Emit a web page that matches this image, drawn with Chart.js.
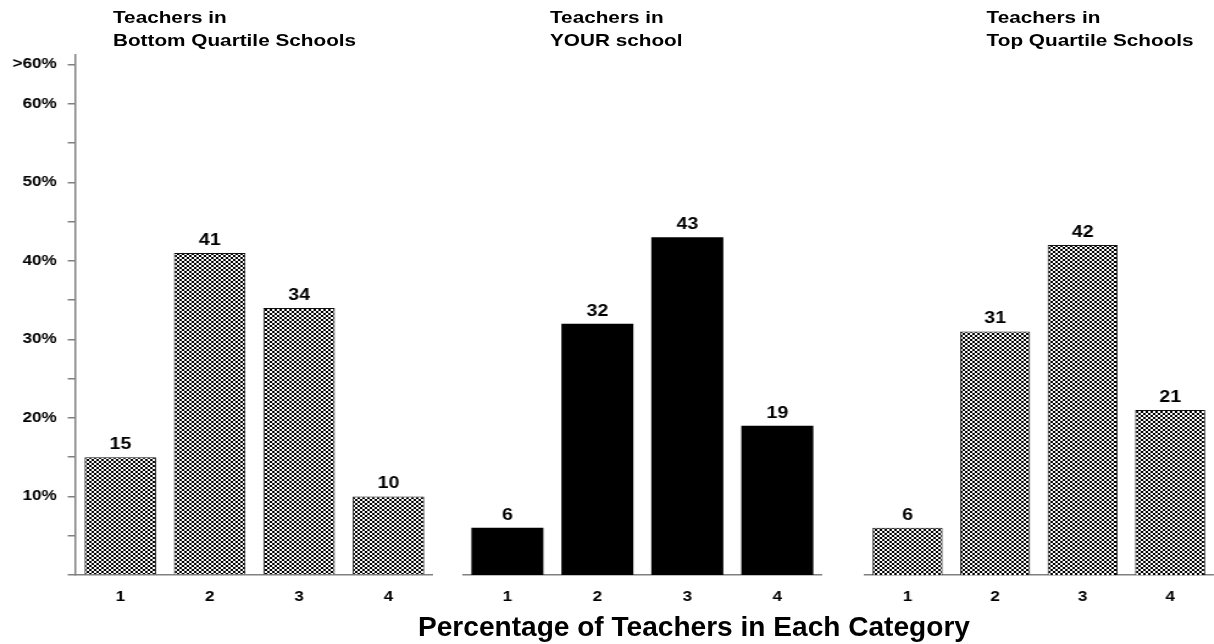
<!DOCTYPE html>
<html>
<head>
<meta charset="utf-8">
<script src="https://cdn.jsdelivr.net/npm/chart.js@4"></script>
<style>
html,body{margin:0;padding:0;background:#fff;width:1214px;height:644px;overflow:hidden;}
#stage{position:absolute;left:0;top:0;width:995px;height:644px;transform:scaleX(1.22);transform-origin:0 0;}
.panel{position:absolute;top:0;height:644px;}
.ttl{position:absolute;top:6px;font:bold 17px "Liberation Sans",Arial,sans-serif;line-height:23.4px;color:#000;white-space:nowrap;}
#xlabel{position:absolute;left:418px;top:614px;font:bold 27px "Liberation Sans",Arial,sans-serif;line-height:27px;color:#000;white-space:nowrap;transform:scaleX(1.04);transform-origin:0 0;}
</style>
</head>
<body>
<div id="stage">
  <div class="panel" style="left:0px;width:355px;"><canvas id="c1"></canvas></div>
  <div class="panel" style="left:379px;width:295px;"><canvas id="c2"></canvas></div>
  <div class="panel" style="left:708px;width:287px;"><canvas id="c3"></canvas></div>
  <div class="ttl" style="left:92.6px;">Teachers in<br>Bottom Quartile Schools</div>
  <div class="ttl" style="left:450.8px;">Teachers in<br>YOUR school</div>
  <div class="ttl" style="left:808.7px;">Teachers in<br>Top Quartile Schools</div>
</div>
<div id="xlabel">Percentage of Teachers in Each Category</div>
<script>
const categories = ['1', '2', '3', '4'];
const bottomQuartile = [15, 41, 34, 10];
const yourSchool = [6, 32, 43, 19];
const topQuartile = [6, 31, 42, 21];
const yTickValues = [0, 5, 10, 15, 20, 25, 30, 35, 40, 45, 50, 55, 60, 65];
const yTickLabels = ['', '', '10%', '', '20%', '', '30%', '', '40%', '', '50%', '', '60%', '>60%'];
const yMax = 66.2;

const FONT = '"Liberation Sans", Arial, sans-serif';

function hatchPattern(targetCanvas) {
  const tile = document.createElement('canvas');
  tile.width = 4; tile.height = 4;
  const g = tile.getContext('2d');
  g.fillStyle = '#fff'; g.fillRect(0, 0, 4, 4);
  g.fillStyle = '#000';
  for (let i = 0; i < 4; i++) { g.fillRect(i, i, 1, 1); g.fillRect(3 - i, i, 1, 1); }
  return targetCanvas.getContext('2d').createPattern(tile, 'repeat');
}

const valueLabels = {
  id: 'valueLabels',
  afterDatasetsDraw(chart) {
    const ctx = chart.ctx;
    ctx.save();
    ctx.font = 'bold 16px ' + FONT;
    ctx.fillStyle = '#000';
    ctx.textAlign = 'center';
    ctx.textBaseline = 'alphabetic';
    const ds = chart.data.datasets[0];
    chart.getDatasetMeta(0).data.forEach((bar, i) => {
      ctx.fillText(String(ds.data[i]), bar.x, bar.y - 8);
    });
    ctx.restore();
  }
};

function makeChart(id, values, fill, border, showY, yWidth) {
  const canvas = document.getElementById(id);
  const bg = fill === 'hatch' ? hatchPattern(canvas) : fill;
  return new Chart(canvas, {
    type: 'bar',
    data: {
      labels: categories,
      datasets: [{
        data: values,
        backgroundColor: bg,
        borderColor: border || 'rgba(0,0,0,0)',
        borderWidth: border ? 1 : 0,
        barPercentage: 0.8,
        categoryPercentage: 1
      }]
    },
    options: {
      responsive: true,
      maintainAspectRatio: false,
      animation: false,
      layout: { padding: { top: 55, bottom: 0, left: 0, right: 0 } },
      plugins: { legend: { display: false }, tooltip: { enabled: false } },
      scales: {
        x: {
          grid: { display: false, drawTicks: false },
          border: { display: true, color: '#808080', width: 1.5 },
          ticks: { padding: 14, color: '#000', font: { family: FONT, size: 14, weight: 'bold' } },
          afterFit: s => { s.height = 69; }
        },
        y: {
          min: 0,
          max: yMax,
          afterBuildTicks: a => { a.ticks = yTickValues.map(v => ({ value: v })); },
          afterFit: s => { s.width = yWidth; },
          grid: { display: showY, drawOnChartArea: false, drawTicks: true, tickLength: 6.5, color: '#808080', lineWidth: 1.5 },
          border: { display: showY, color: '#808080', width: 1.5 },
          ticks: {
            display: showY,
            autoSkip: false,
            padding: 9,
            color: '#000',
            font: { family: FONT, size: 14, weight: 'bold' },
            callback: v => yTickLabels[yTickValues.indexOf(v)]
          }
        }
      }
    },
    plugins: [valueLabels]
  });
}

makeChart('c1', bottomQuartile, 'hatch', '#111', true, 62);
makeChart('c2', yourSchool, '#000', null, false, 0);
makeChart('c3', topQuartile, 'hatch', '#111', false, 0);
</script>
</body>
</html>
